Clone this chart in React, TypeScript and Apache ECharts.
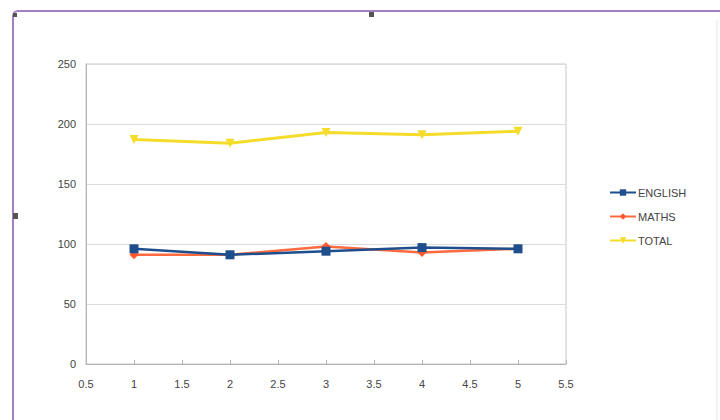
import React, { useEffect, useRef } from "react";
import * as echarts from "echarts";

const xValues = [1, 2, 3, 4, 5];
const english = [96, 91, 94, 97, 96];
const maths = [91, 91, 98, 93, 96];
const total = [187, 184, 193, 191, 194];
const seriesNames = ["ENGLISH", "MATHS", "TOTAL"];

export default function App() {
  const ref = useRef<HTMLDivElement>(null);
  useEffect(() => {
    const chart = echarts.init(ref.current!, null, { renderer: "svg" });
    const toPairs = (arr: number[]) => arr.map((v, i) => [xValues[i], v]);
    const font = "Liberation Sans";
    chart.setOption({
      animation: false,
      backgroundColor: "#ffffff",
      textStyle: { fontFamily: font },
      grid: {
        left: 86,
        right: 154,
        top: 64,
        bottom: 56,
        show: true,
        borderColor: "#c8c8c8",
        borderWidth: 1,
        backgroundColor: "transparent",
      },
      legend: {
        orient: "vertical",
        left: 604,
        top: 182,
        itemGap: 13,
        itemWidth: 26,
        itemHeight: 8,
        data: seriesNames,
        textStyle: { fontSize: 11, color: "#444", fontFamily: font, padding: [0, 0, 0, -3] },
      },
      xAxis: {
        type: "value",
        min: 0.5,
        max: 5.5,
        interval: 0.5,
        axisLine: { show: true, onZero: false, lineStyle: { color: "#b3b3b3" } },
        axisTick: { show: true, inside: true, length: 4, lineStyle: { color: "#b3b3b3" } },
        splitLine: { show: false },
        axisLabel: { color: "#444", fontSize: 11, margin: 14, fontFamily: font },
      },
      yAxis: {
        type: "value",
        min: 0,
        max: 250,
        interval: 50,
        axisLine: { show: true, lineStyle: { color: "#b3b3b3" } },
        axisTick: { show: false },
        splitLine: { show: true, lineStyle: { color: "#dcdcdc" } },
        axisLabel: { color: "#444", fontSize: 11, margin: 10, fontFamily: font },
      },
      series: [
        {
          name: "ENGLISH",
          type: "line",
          data: toPairs(english),
          symbol: "rect",
          symbolSize: 9,
          z: 4,
          itemStyle: { color: "#1f4e8c" },
          lineStyle: { color: "#1f4e8c", width: 2.5 },
        },
        {
          name: "MATHS",
          type: "line",
          data: toPairs(maths),
          symbol: "diamond",
          symbolSize: 9,
          z: 3,
          itemStyle: { color: "#ff5a2e" },
          lineStyle: { color: "#ff6a3e", width: 2.5 },
        },
        {
          name: "TOTAL",
          type: "line",
          data: toPairs(total),
          symbol: "triangle",
          symbolRotate: 180,
          symbolSize: 9,
          itemStyle: { color: "#f5dc2a" },
          lineStyle: { color: "#f5dc2a", width: 3 },
        },
      ],
      graphic: [
        {
          type: "rect",
          shape: { x: 13, y: 11, width: 740, height: 440, r: 5 },
          style: { fill: "none", stroke: "#a57fc0", lineWidth: 2 },
          silent: true,
        },
        { type: "line", shape: { x1: 717, y1: 20, x2: 717, y2: 420 }, style: { stroke: "#e4e4e4", lineWidth: 1 } },
        { type: "rect", shape: { x: 13, y: 13, width: 4, height: 4 }, style: { fill: "#555" } },
        { type: "rect", shape: { x: 369, y: 12, width: 5, height: 5 }, style: { fill: "#555" } },
        { type: "rect", shape: { x: 13, y: 213, width: 5, height: 6 }, style: { fill: "#555" } },
      ],
    });
    return () => chart.dispose();
  }, []);
  return (
    <div
      ref={ref}
      style={{ position: "absolute", left: 0, top: 0, width: 720, height: 420 }}
    />
  );
}
